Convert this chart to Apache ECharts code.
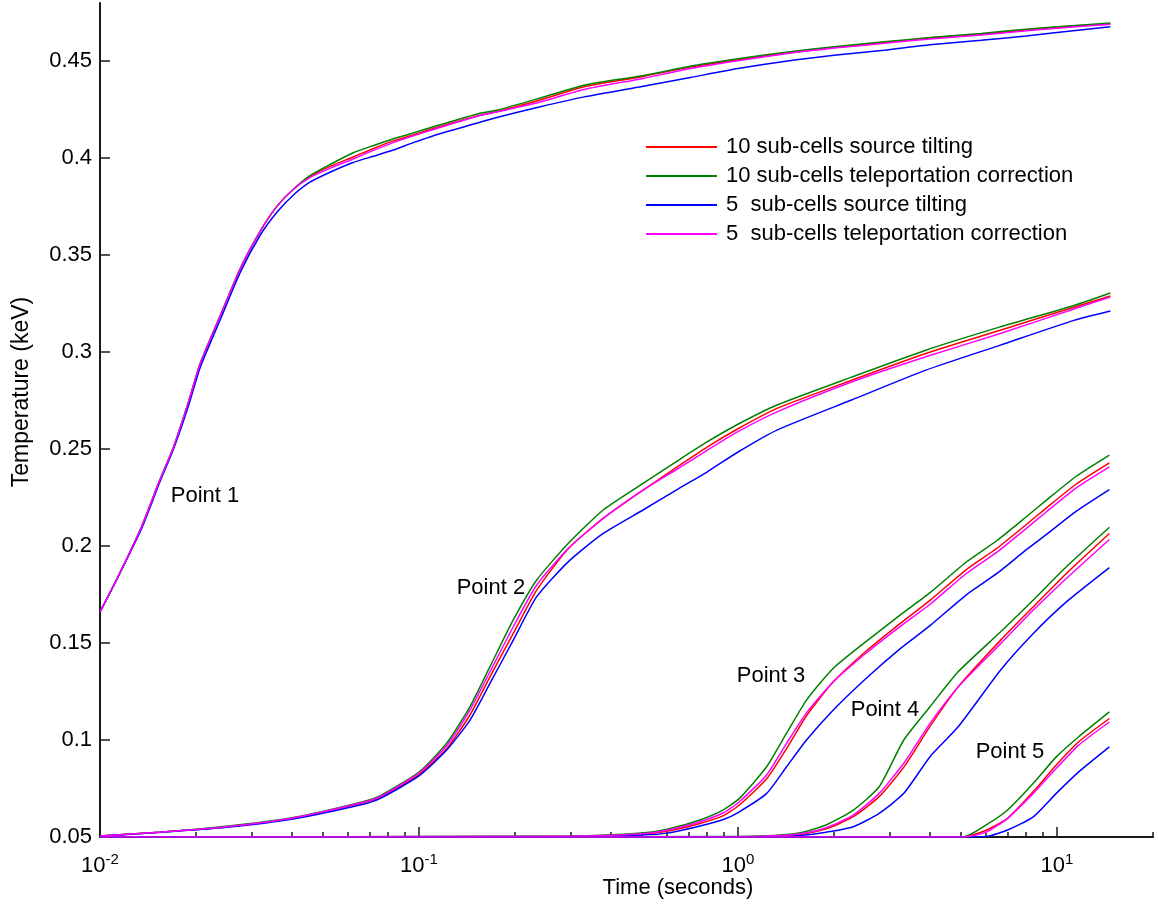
<!DOCTYPE html>
<html>
<head>
<meta charset="utf-8">
<script src="https://cdn.jsdelivr.net/npm/echarts@6/dist/echarts.min.js"></script>
<style>
  html, body { margin: 0; padding: 0; background: #fff; }
  #chart { width: 1158px; height: 909px; }
</style>
</head>
<body>
<div id="chart"></div>
<script>
// ---- series names (legend) ----
const seriesNames = [
  '10 sub-cells source tilting',
  '10 sub-cells teleportation correction',
  '5  sub-cells source tilting',
  '5  sub-cells teleportation correction'
];
const seriesColors = ['#ff0000', '#008000', '#0000ff', '#ff00ff'];

// ---- Point 1 ----
const p1Time  = [0.01, 0.0113, 0.0135, 0.0154, 0.017, 0.019, 0.0206, 0.024, 0.0275, 0.0317, 0.0358, 0.0404, 0.0455, 0.053, 0.0622, 0.072, 0.0831, 0.096, 0.111, 0.1553, 0.1754, 0.24, 0.329, 0.50, 0.709, 1.0, 1.43, 2.0, 2.87, 4.0, 5.78, 8.0, 10.0, 14.7];
const p1Red   = [0.166, 0.183, 0.210, 0.234, 0.251, 0.275, 0.294, 0.320, 0.343, 0.362, 0.375, 0.384, 0.3905, 0.396, 0.4006, 0.405, 0.4089, 0.412, 0.4153, 0.4221, 0.424, 0.430, 0.4368, 0.442, 0.447, 0.4508, 0.4542, 0.457, 0.4595, 0.462, 0.4638, 0.466, 0.4675, 0.4692];
const p1Green = [0.166, 0.183, 0.210, 0.234, 0.251, 0.275, 0.294, 0.320, 0.343, 0.362, 0.375, 0.384, 0.391, 0.397, 0.4028, 0.4065, 0.410, 0.413, 0.4162, 0.4232, 0.4247, 0.431, 0.4376, 0.4425, 0.4474, 0.4512, 0.4548, 0.4575, 0.4600, 0.4622, 0.4643, 0.4665, 0.4678, 0.4697];
const p1Blue  = [0.166, 0.183, 0.209, 0.233, 0.250, 0.273, 0.292, 0.318, 0.341, 0.360, 0.372, 0.381, 0.3876, 0.393, 0.3978, 0.401, 0.4042, 0.408, 0.4116, 0.4185, 0.421, 0.4265, 0.4316, 0.437, 0.4416, 0.4462, 0.4501, 0.453, 0.4557, 0.4585, 0.4608, 0.463, 0.4648, 0.4677];
const p1Mag   = [0.166, 0.183, 0.210, 0.234, 0.251, 0.275, 0.294, 0.320, 0.343, 0.362, 0.375, 0.384, 0.390, 0.395, 0.3996, 0.404, 0.408, 0.4115, 0.4148, 0.422, 0.4238, 0.429, 0.4354, 0.441, 0.4462, 0.4502, 0.454, 0.4568, 0.4592, 0.4615, 0.4635, 0.4657, 0.467, 0.4691];

// ---- Point 2 ----
const p2Time  = [0.01, 0.0154, 0.0249, 0.0403, 0.0653, 0.0754, 0.1, 0.1221, 0.1445, 0.1669, 0.1975, 0.2339, 0.294, 0.378, 0.504, 0.65, 0.802, 1.0, 1.325, 2.27, 3.88, 6.64, 11.37, 14.7];
const p2Red   = [0.0505, 0.0525, 0.0552, 0.0597, 0.0672, 0.0704, 0.0822, 0.0955, 0.1129, 0.1326, 0.155, 0.1773, 0.1988, 0.2143, 0.2289, 0.2412, 0.2512, 0.2605, 0.271, 0.2855, 0.2993, 0.3113, 0.3233, 0.3289];
const p2Green = [0.0505, 0.0525, 0.0555, 0.0600, 0.0678, 0.0712, 0.0835, 0.0983, 0.1172, 0.1378, 0.1619, 0.1825, 0.2014, 0.2186, 0.2323, 0.2442, 0.2538, 0.2628, 0.2727, 0.2871, 0.301, 0.313, 0.3242, 0.3305];
const p2Blue  = [0.0505, 0.0524, 0.0550, 0.0593, 0.0665, 0.0698, 0.0815, 0.0948, 0.1103, 0.1292, 0.1515, 0.1739, 0.192, 0.2065, 0.2186, 0.2295, 0.2383, 0.2485, 0.2598, 0.2753, 0.2907, 0.3036, 0.3165, 0.3212];
const p2Mag   = [0.0505, 0.0525, 0.0553, 0.0598, 0.0675, 0.0708, 0.083, 0.097, 0.1155, 0.1352, 0.1584, 0.1799, 0.1988, 0.2143, 0.2289, 0.2400, 0.2495, 0.2590, 0.2692, 0.2846, 0.2976, 0.3096, 0.3224, 0.3284];

// ---- Point 3 ----
const p3Time  = [0.01, 0.3, 0.5, 0.6, 0.76, 0.9, 1.01, 1.23, 1.42, 1.64, 1.99, 2.53, 3.22, 4.0, 5.21, 6.5, 8.0, 9.27, 11.5, 14.6];
const p3Red   = [0.05, 0.0503, 0.0515, 0.053, 0.057, 0.061, 0.0665, 0.080, 0.0956, 0.1125, 0.130, 0.146, 0.160, 0.172, 0.188, 0.199, 0.211, 0.2197, 0.232, 0.2429];
const p3Green = [0.05, 0.0505, 0.052, 0.054, 0.0588, 0.064, 0.0699, 0.0862, 0.1035, 0.1206, 0.137, 0.151, 0.1644, 0.176, 0.1919, 0.203, 0.215, 0.2237, 0.236, 0.2469];
const p3Blue  = [0.05, 0.0502, 0.051, 0.052, 0.0557, 0.059, 0.063, 0.0725, 0.0862, 0.100, 0.1155, 0.132, 0.147, 0.159, 0.175, 0.186, 0.198, 0.206, 0.218, 0.2291];
const p3Mag   = [0.05, 0.0504, 0.0517, 0.0535, 0.0579, 0.0625, 0.0682, 0.082, 0.0983, 0.114, 0.130, 0.145, 0.1585, 0.170, 0.186, 0.197, 0.209, 0.2177, 0.230, 0.2408];

// ---- Point 4 ----
const p4Time  = [0.01, 1.0, 1.3, 1.57, 1.89, 2.30, 2.77, 3.31, 4.0, 4.9, 6.66, 8.43, 10.7, 14.6];
const p4Red   = [0.05, 0.0501, 0.0505, 0.0514, 0.0542, 0.0605, 0.0708, 0.086, 0.107, 0.1274, 0.1515, 0.1687, 0.1859, 0.2065];
const p4Green = [0.05, 0.0502, 0.0508, 0.0522, 0.0562, 0.0639, 0.0759, 0.100, 0.1172, 0.1352, 0.1558, 0.1722, 0.1893, 0.2097];
const p4Blue  = [0.05, 0.0500, 0.0502, 0.0508, 0.0525, 0.0553, 0.0622, 0.0725, 0.0914, 0.1068, 0.1361, 0.1549, 0.1712, 0.1889];
const p4Mag   = [0.05, 0.0501, 0.0506, 0.0517, 0.0548, 0.0613, 0.0725, 0.088, 0.1086, 0.1274, 0.1497, 0.167, 0.1833, 0.2034];

// ---- Point 5 ----
const p5Time  = [0.01, 5.08, 6.0, 7.0, 8.43, 9.95, 11.7, 14.6];
const p5Red   = [0.05, 0.05, 0.0535, 0.0596, 0.0734, 0.0871, 0.0991, 0.1111];
const p5Green = [0.05, 0.05, 0.0562, 0.0639, 0.0777, 0.0913, 0.1017, 0.1145];
const p5Blue  = [0.05, 0.05, 0.0502, 0.0536, 0.0604, 0.0725, 0.0836, 0.0965];
const p5Mag   = [0.05, 0.05, 0.0525, 0.0596, 0.0725, 0.0854, 0.0974, 0.1093];

// ---- curve annotations ----
const pointLabels = ['Point 1', 'Point 2', 'Point 3', 'Point 4', 'Point 5'];
const pointLabelTime = [0.02134, 0.1681, 1.269, 2.889, 7.12];
const pointLabelTemp = [0.2258, 0.1784, 0.133, 0.1155, 0.094];

// ---- axis ticks ----
const xMajorTicks = [0.01, 0.1, 1, 10];
const xMinorTicks = [0.02, 0.03, 0.04, 0.05, 0.06, 0.07, 0.08, 0.09,
                     0.2, 0.3, 0.4, 0.5, 0.6, 0.7, 0.8, 0.9,
                     2, 3, 4, 5, 6, 7, 8, 9, 20];
const yTicks = [0.05, 0.1, 0.15, 0.2, 0.25, 0.3, 0.35, 0.4, 0.45];

const FONT = "'Liberation Sans', Arial, sans-serif";
const AXIS_COLOR = '#1a1a1a';

const curves = [
  { t: p1Time, v: [p1Red, p1Green, p1Blue, p1Mag] },
  { t: p2Time, v: [p2Red, p2Green, p2Blue, p2Mag] },
  { t: p3Time, v: [p3Red, p3Green, p3Blue, p3Mag] },
  { t: p4Time, v: [p4Red, p4Green, p4Blue, p4Mag] },
  { t: p5Time, v: [p5Red, p5Green, p5Blue, p5Mag] }
];

const series = [];
curves.forEach(c => {
  c.v.forEach((vals, k) => {
    series.push({
      type: 'line',
      name: seriesNames[k],
      xAxisIndex: 0,
      yAxisIndex: 0,
      data: c.t.map((t, i) => [t, vals[i]]),
      showSymbol: false,
      symbol: 'none',
      smooth: 0.2,
      clip: true,
      lineStyle: { color: seriesColors[k], width: 1.5 },
      itemStyle: { color: seriesColors[k] },
      emphasis: { disabled: true },
      animation: false
    });
  });
});

const chart = echarts.init(document.getElementById('chart'), null, { renderer: 'canvas' });

const axisTitles = [
  {
    type: 'text',
    x: 678, y: 888,
    style: { text: 'Time (seconds)', fontFamily: FONT, fontSize: 22, fill: '#000', align: 'center', verticalAlign: 'middle' }
  },
  {
    type: 'text',
    x: 22, y: 392,
    rotation: Math.PI / 2,
    style: { text: 'Temperature (keV)', fontFamily: FONT, fontSize: 23, fill: '#000', align: 'center', verticalAlign: 'middle' }
  }
];

chart.setOption({
  backgroundColor: '#ffffff',
  animation: false,
  grid: { left: 100, right: 5, top: 3, bottom: 72, containLabel: false },
  legend: {
    data: seriesNames,
    orient: 'vertical',
    left: 645,
    top: 136,
    padding: 0,
    itemWidth: 71,
    itemHeight: 14,
    itemGap: 7,
    itemStyle: { opacity: 0 },
    textStyle: { fontFamily: FONT, fontSize: 22, color: '#000', lineHeight: 22, padding: [0, 0, 0, 4] },
    selectedMode: false
  },
  xAxis: [
    {
      type: 'log',
      logBase: 10,
      min: 0.01,
      max: 20,
      position: 'bottom',
      axisLine: { show: true, onZero: false, lineStyle: { color: AXIS_COLOR, width: 2 } },
      axisTick: { show: true, inside: true, length: 10, customValues: xMajorTicks, lineStyle: { color: AXIS_COLOR, width: 1.5 } },
      axisLabel: {
        show: true,
        customValues: xMajorTicks,
        margin: 15,
        formatter: v => '{b|10}{s|' + Math.round(Math.log10(v)) + '}',
        rich: {
          b: { fontFamily: FONT, fontSize: 22, color: '#000' },
          s: { fontFamily: FONT, fontSize: 15, color: '#000', padding: [0, 0, 13, 0] }
        }
      },
      splitLine: { show: false }
    },
    {
      type: 'log',
      logBase: 10,
      min: 0.01,
      max: 20,
      position: 'bottom',
      axisLine: { show: false, onZero: false },
      axisTick: { show: true, inside: true, length: 5, customValues: xMinorTicks, lineStyle: { color: AXIS_COLOR, width: 1.5 } },
      axisLabel: { show: false },
      splitLine: { show: false }
    }
  ],
  yAxis: {
    type: 'value',
    min: 0.05,
    max: 0.48,
    axisLine: { show: true, onZero: false, lineStyle: { color: AXIS_COLOR, width: 2 } },
    axisTick: { show: true, inside: true, length: 10, customValues: yTicks, lineStyle: { color: AXIS_COLOR, width: 1.5 } },
    axisLabel: {
      show: true,
      customValues: yTicks,
      margin: 8,
      fontFamily: FONT,
      fontSize: 22,
      color: '#000',
      formatter: v => String(parseFloat(v.toFixed(2)))
    },
    splitLine: { show: false }
  },
  graphic: axisTitles,
  series: series
});

// Curve annotations placed through the axes' own data-to-pixel conversion
const labelGraphics = pointLabels.map((name, i) => {
  const p = chart.convertToPixel({ xAxisIndex: 0, yAxisIndex: 0 }, [pointLabelTime[i], pointLabelTemp[i]]);
  return {
    type: 'text',
    x: p[0], y: p[1],
    silent: true,
    style: { text: name, fontFamily: FONT, fontSize: 22, fill: '#000', align: 'center', verticalAlign: 'middle' }
  };
});
chart.setOption({ graphic: axisTitles.concat(labelGraphics) });
</script>
</body>
</html>
